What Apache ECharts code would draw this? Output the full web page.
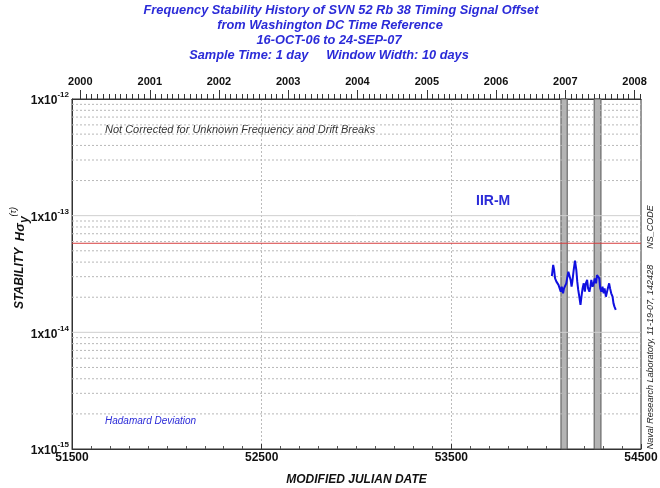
<!DOCTYPE html>
<html>
<head>
<meta charset="utf-8">
<script src="https://cdn.jsdelivr.net/npm/echarts@6/dist/echarts.min.js"></script>
<style>
  html, body { margin: 0; padding: 0; background: #fff; }
  #chart { width: 660px; height: 488px; }
</style>
</head>
<body>
<div id="chart"></div>
<script>
// Hadamard deviation of the SVN 52 timing signal offset (10-day window)
const mjd = [54030, 54037, 54042, 54047, 54054, 54060, 54065, 54072, 54077, 54082,
  54089, 54094, 54099, 54106, 54112, 54117, 54124, 54129, 54134, 54138,
  54145, 54152, 54159, 54164, 54169, 54176, 54181, 54186, 54192, 54198,
  54204, 54209, 54216, 54221, 54228, 54233, 54238, 54245, 54251, 54256,
  54263, 54268, 54273, 54280, 54285, 54291, 54297, 54303, 54308, 54315,
  54320, 54325, 54332, 54337, 54343, 54350, 54355, 54360, 54367];
const hdev = [3.04e-14, 3.78e-14, 3.42e-14, 2.90e-14, 2.72e-14, 2.81e-14, 2.55e-14, 2.63e-14, 2.23e-14, 2.46e-14,
  2.16e-14, 2.38e-14, 2.47e-14, 2.63e-14, 3.00e-14, 3.31e-14, 3.42e-14, 2.81e-14, 2.46e-14, 2.72e-14,
  3.42e-14, 4.12e-14, 3.42e-14, 2.72e-14, 2.31e-14, 1.96e-14, 1.72e-14, 2.02e-14, 2.38e-14, 2.63e-14,
  2.23e-14, 2.63e-14, 2.81e-14, 2.38e-14, 2.23e-14, 2.46e-14, 2.81e-14, 2.46e-14, 2.63e-14, 2.90e-14,
  2.63e-14, 3.10e-14, 3.21e-14, 2.90e-14, 2.38e-14, 2.23e-14, 2.46e-14, 2.16e-14, 2.38e-14, 2.02e-14,
  1.96e-14, 2.38e-14, 2.63e-14, 2.38e-14, 2.16e-14, 2.02e-14, 1.77e-14, 1.66e-14, 1.56e-14];

// Frequency / drift break intervals (MJD start, end)
const breakStart = [54078, 54253];
const breakEnd = [54111, 54289];

// Specification level
const specLevel = 5.8e-14;

// Calendar axis along the top
const yearLabels = ['2000', '2001', '2002', '2003', '2004', '2005', '2006', '2007', '2008'];
const yearMJD = [51544, 51910, 52275, 52640, 53005, 53371, 53736, 54101, 54466];

// MJD axis ticks
const mjdTicks = [51500, 52500, 53500, 54500];
const decades = [1e-15, 1e-14, 1e-13, 1e-12];

const titleLines = [
  'Frequency Stability History of SVN 52 Rb 38 Timing Signal Offset',
  'from Washington DC Time Reference',
  '16-OCT-06 to 24-SEP-07',
  'Sample Time: 1 day     Window Width: 10 days'
];
const titleCenters = [341, 330, 329, 329];

// First of each month, as MJD
const monthMJD = [];
for (let y = 2000; y <= 2008; y++) {
  for (let m = 0; m < 12; m++) {
    const v = Date.UTC(y, m, 1) / 86400000 + 40587;
    if (v >= 51500 && v <= 54500) monthMJD.push(v);
  }
}

// Minor log gridline values (2..9 x 10^n)
const minorGrid = [];
decades.slice(0, 3).forEach(d => {
  for (let k = 2; k <= 9; k++) minorGrid.push(+(k * d).toPrecision(3));
});

const FONT = '"Liberation Sans", Arial, sans-serif';
const BLUE = '#2b2bd8';
const X0 = 51500, X1 = 54500;

// A horizontal rule spanning the plot, drawn as a two-point line series
function hRule(v, style, z) {
  return {
    type: 'line', xAxisIndex: 0, yAxisIndex: 0, silent: true,
    data: [[X0, v], [X1, v]], symbol: 'none', showSymbol: false,
    lineStyle: style, z: z, animation: false
  };
}

const chart = echarts.init(document.getElementById('chart'), null, { renderer: 'canvas' });

const option = {
  backgroundColor: '#fff',
  animation: false,
  textStyle: { fontFamily: FONT },
  grid: {
    left: 72, right: 19, top: 99, bottom: 39,
    show: true, borderColor: '#333', borderWidth: 1,
    containLabel: false, outerBoundsMode: 'none'
  },
  xAxis: [
    {
      type: 'value', min: X0, max: X1, interval: 1000, position: 'bottom',
      axisLine: { show: true, lineStyle: { color: '#333' } },
      axisTick: { show: true, inside: true, length: 5, lineStyle: { color: '#333' } },
      minorTick: { show: true, splitNumber: 10, length: 3, lineStyle: { color: '#555' } },
      axisLabel: { color: '#111', fontWeight: 'bold', fontSize: 12, margin: 3, fontFamily: FONT,
        customValues: mjdTicks, formatter: v => String(v) },
      splitLine: { show: true, showMinLine: false, showMaxLine: false, lineStyle: { type: [2, 2], color: '#bbb' } },
      name: 'MODIFIED JULIAN DATE', nameLocation: 'middle', nameGap: 25,
      nameTextStyle: { color: '#111', fontWeight: 'bold', fontStyle: 'italic', fontSize: 12, fontFamily: FONT }
    },
    {
      type: 'value', min: X0, max: X1, position: 'top',
      axisLine: { show: true, lineStyle: { color: '#333' } },
      axisTick: { show: true, length: 9, customValues: yearMJD, lineStyle: { color: '#333' } },
      axisLabel: { show: true, customValues: yearMJD, color: '#111', fontWeight: 'bold', fontSize: 11, margin: 12, fontFamily: FONT,
        formatter: v => yearLabels[yearMJD.indexOf(Math.round(v))] || '' },
      splitLine: { show: false }
    },
    {
      type: 'value', min: X0, max: X1, position: 'top',
      axisLine: { show: false },
      axisTick: { show: true, length: 5, customValues: monthMJD, lineStyle: { color: '#333' } },
      axisLabel: { show: false },
      splitLine: { show: false }
    }
  ],
  yAxis: [
    {
      type: 'log', logBase: 10, min: 1e-15, max: 1e-12,
      axisLine: { show: true, lineStyle: { color: '#333' } },
      axisTick: { show: false },
      splitLine: { show: false },
      axisLabel: {
        margin: 3, color: '#111',
        formatter: v => '{b|1x10}{s|' + Math.round(Math.log10(v)) + '}',
        rich: {
          b: { fontWeight: 'bold', fontSize: 12, fontFamily: FONT, color: '#111', lineHeight: 16, verticalAlign: 'bottom' },
          s: { fontWeight: 'bold', fontSize: 8, fontFamily: FONT, color: '#111', lineHeight: 16, verticalAlign: 'top' }
        }
      }
    }
  ],
  series: [
    ...decades.slice(1, 3).map(v => hRule(v, { type: 'solid', color: '#cfcfcf', width: 1 }, 1)),
    ...minorGrid.map(v => hRule(v, { type: [2, 2], color: '#b8b8b8', width: 1 }, 1)),
    hRule(specLevel, { type: 'solid', color: '#d84040', width: 1 }, 3),
    {
      type: 'line',
      xAxisIndex: 0, yAxisIndex: 0,
      data: mjd.map((m, i) => [m, hdev[i]]),
      showSymbol: false, symbol: 'none',
      lineStyle: { color: '#1010e0', width: 2 },
      z: 5,
      markArea: {
        silent: true,
        itemStyle: { color: '#b4b4b4', borderColor: '#555', borderWidth: 1 },
        data: breakStart.map((s, i) => [{ xAxis: s }, { xAxis: breakEnd[i] }])
      }
    }
  ],
  graphic: [
    ...titleLines.map((t, i) => ({
      type: 'text', x: titleCenters[i], y: 10 + i * 15,
      style: { text: t, fill: BLUE, font: 'italic bold 12.8px ' + FONT, align: 'center', verticalAlign: 'middle' }
    })),
    { type: 'text', x: 105, y: 130,
      style: { text: 'Not Corrected for Unknown Frequency and Drift Breaks', fill: '#333', font: 'italic 11px ' + FONT, verticalAlign: 'middle' } },
    { type: 'text', x: 476, y: 201,
      style: { text: 'IIR-M', fill: BLUE, font: 'bold 14px ' + FONT, verticalAlign: 'middle' } },
    { type: 'text', x: 105, y: 421,
      style: { text: 'Hadamard Deviation', fill: BLUE, font: 'italic 10px ' + FONT, verticalAlign: 'middle' } },
    { type: 'text', x: 650, y: 227, rotation: Math.PI / 2,
      style: { text: 'NS_CODE', fill: '#222', font: 'italic 9px ' + FONT, align: 'center', verticalAlign: 'middle' } },
    { type: 'text', x: 650, y: 357, rotation: Math.PI / 2,
      style: { text: 'Naval Research Laboratory, 11-19-07, 142428', fill: '#222', font: 'italic 9px ' + FONT, align: 'center', verticalAlign: 'middle' } },
    { type: 'text', x: 20, y: 258, rotation: Math.PI / 2,
      style: {
        text: '{a|STABILITY}  {h|H\u03c3}{sub|y}{sup|(\u03c4)}',
        align: 'center', verticalAlign: 'middle',
        rich: {
          a: { fill: '#111', font: 'italic bold 12px ' + FONT, lineHeight: 22, verticalAlign: 'middle' },
          h: { fill: '#111', font: 'italic bold 13px ' + FONT, lineHeight: 22, verticalAlign: 'middle' },
          sub: { fill: '#111', font: 'italic bold 12px ' + FONT, lineHeight: 22, verticalAlign: 'bottom' },
          sup: { fill: '#111', font: 'italic 9px ' + FONT, lineHeight: 22, verticalAlign: 'top' }
        }
      }
    }
  ]
};

chart.setOption(option);
</script>
</body>
</html>
